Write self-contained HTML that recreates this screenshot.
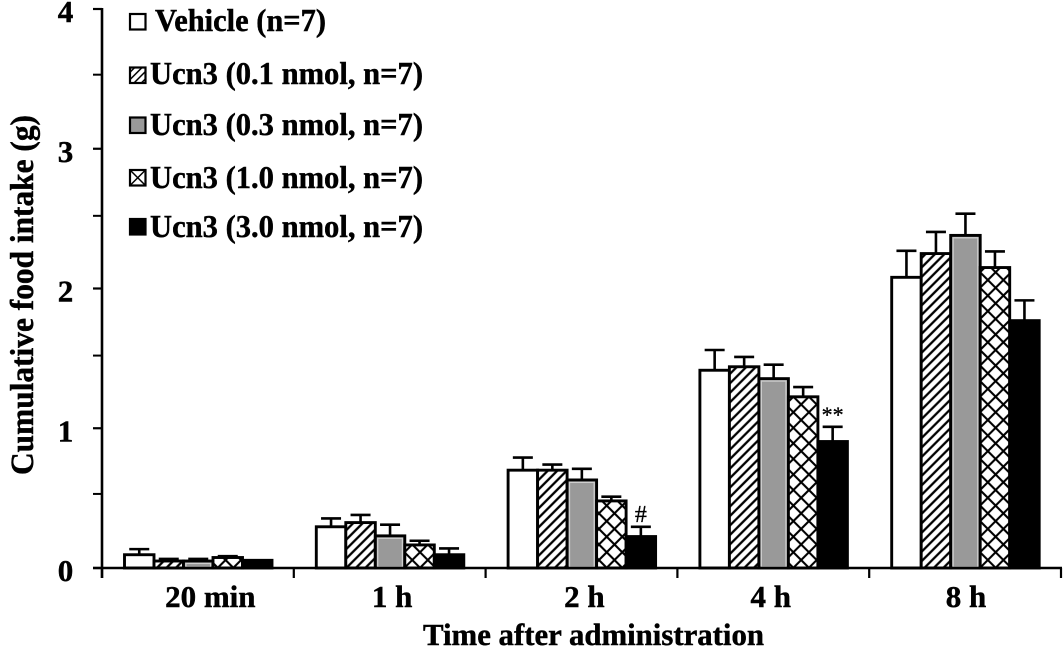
<!DOCTYPE html>
<html lang="en">
<head>
<meta charset="utf-8">
<title>Cumulative food intake chart</title>
<style>
html,body{margin:0;padding:0;background:#fff;width:1063px;height:656px;overflow:hidden}
svg{display:block;filter:blur(.35px)}
text{font-family:"Liberation Serif","Times New Roman",serif;font-weight:bold;fill:#000;stroke:#000;stroke-width:.45px}
</style>
</head>
<body>
<svg id="chart" xmlns="http://www.w3.org/2000/svg" width="1063" height="656" viewBox="0 0 1063 656">
  <defs>
    <pattern id="hatch" patternUnits="userSpaceOnUse" width="6.7" height="6.7" patternTransform="rotate(45)">
      <rect width="6.7" height="6.7" fill="#fff"/>
      <line x1="3.3" y1="0" x2="3.3" y2="6.7" stroke="#000" stroke-width="2.3"/>
    </pattern>
    <pattern id="cross" patternUnits="userSpaceOnUse" width="11" height="11" patternTransform="rotate(45)">
      <rect width="11" height="11" fill="#fff"/>
      <line x1="5.5" y1="0" x2="5.5" y2="11" stroke="#000" stroke-width="2.1"/>
      <line x1="0" y1="5.5" x2="11" y2="5.5" stroke="#000" stroke-width="2.1"/>
    </pattern>
    <pattern id="hatch-small" patternUnits="userSpaceOnUse" width="5.2" height="5.2" patternTransform="rotate(45)">
      <rect width="5.2" height="5.2" fill="#fff"/>
      <line x1="2.6" y1="0" x2="2.6" y2="5.2" stroke="#000" stroke-width="1.5"/>
    </pattern>
  </defs>

  <g id="plot"></g>

  <text font-size="33" transform="translate(33,475) rotate(-90)" textLength="360" lengthAdjust="spacingAndGlyphs">Cumulative food intake (g)</text>
  <text font-size="31" x="423" y="645" textLength="341" lengthAdjust="spacingAndGlyphs">Time after administration</text>

  <g>
    <g>
      <rect x="130" y="14" width="15.5" height="15.5" fill="#fff" stroke="#000" stroke-width="2.2"/>
      <text font-size="32" x="155" y="31" textLength="171" lengthAdjust="spacingAndGlyphs">Vehicle (n=7)</text>
    </g>
    <g>
      <rect x="130" y="67.5" width="15.5" height="15.5" fill="url(#hatch-small)" stroke="#000" stroke-width="2.2"/>
      <text font-size="32" x="150" y="84" textLength="273" lengthAdjust="spacingAndGlyphs">Ucn3 (0.1 nmol, n=7)</text>
    </g>
    <g>
      <rect x="130" y="117.5" width="15.5" height="15.5" fill="#999" stroke="#000" stroke-width="2.2"/>
      <text font-size="32" x="150" y="135" textLength="273" lengthAdjust="spacingAndGlyphs">Ucn3 (0.3 nmol, n=7)</text>
    </g>
    <g>
      <rect x="130" y="170" width="15.5" height="15.5" fill="#fff" stroke="#000" stroke-width="2.2"/>
      <path d="M130 170L145.5 185.500M145.500 170L130 185.500" stroke="#000" stroke-width="1.5"/>
      <text font-size="32" x="150" y="188" textLength="273" lengthAdjust="spacingAndGlyphs">Ucn3 (1.0 nmol, n=7)</text>
    </g>
    <g>
      <rect x="130" y="219" width="15.5" height="15.5" fill="#000" stroke="#000" stroke-width="2.2"/>
      <text font-size="32" x="150" y="237" textLength="273" lengthAdjust="spacingAndGlyphs">Ucn3 (3.0 nmol, n=7)</text>
    </g>
  </g>
</svg>

<script>
const categories = ['20 min', '1 h', '2 h', '4 h', '8 h'];
const vehicleMeans = [0.095, 0.295, 0.70, 1.415, 2.08];
const vehicleErrors = [0.04, 0.06, 0.09, 0.145, 0.19];
const ucn01Means = [0.05, 0.325, 0.70, 1.44, 2.25];
const ucn01Errors = [0.015, 0.055, 0.04, 0.07, 0.155];
const ucn03Means = [0.05, 0.23, 0.63, 1.355, 2.38];
const ucn03Errors = [0.015, 0.08, 0.08, 0.10, 0.155];
const ucn10Means = [0.075, 0.165, 0.48, 1.225, 2.15];
const ucn10Errors = [0.01, 0.03, 0.03, 0.07, 0.115];
const ucn30Means = [0.055, 0.095, 0.225, 0.905, 1.77];
const ucn30Errors = [0, 0.045, 0.07, 0.105, 0.145];
const majorTicks = [0, 1, 2, 3, 4];
const minorTicks = [0.53, 1.52, 2.52, 3.53];
const annotationMarks = [
  { category: '2 h', series: 4, text: '#' },
  { category: '4 h', series: 4, text: '**' }
];

const NS = 'http://www.w3.org/2000/svg';
const plot = document.getElementById('plot');
const axisX0 = 102;
const baselineY = 568;
const unitHeight = 139.75;
const categoryStep = 191.8;
const barStep = 29.5;

function yScale(v) { return baselineY - v * unitHeight; }
function categoryCenter(i) { return axisX0 + categoryStep * (i + 0.5) + 0.4; }
function barLeft(i, j) { return categoryCenter(i) - 73.8 + j * barStep; }

function make(tag, attrs, parent) {
  const el = document.createElementNS(NS, tag);
  for (const k in attrs) el.setAttribute(k, attrs[k]);
  (parent || plot).appendChild(el);
  return el;
}

const seriesMeans = [vehicleMeans, ucn01Means, ucn03Means, ucn10Means, ucn30Means];
const seriesErrors = [vehicleErrors, ucn01Errors, ucn03Errors, ucn10Errors, ucn30Errors];
const seriesKeys = ['vehicle', 'ucn3-0-1', 'ucn3-0-3', 'ucn3-1-0', 'ucn3-3-0'];
const seriesFills = ['#fff', 'url(#hatch)', '#999', 'url(#cross)', '#000'];

categories.forEach(function (cat, i) {
  seriesMeans.forEach(function (means, j) {
    const x = barLeft(i, j);
    const cx = x + barStep / 2;
    const top = yScale(means[i]);
    const errTop = yScale(means[i] + seriesErrors[j][i]);

    const stem = make('line', { x1: cx, x2: cx, y1: top, y2: errTop, stroke: '#000', 'stroke-width': 2.6 });
    
    

    const cap = make('line', { x1: cx - 10, x2: cx + 10, y1: errTop, y2: errTop, stroke: '#000', 'stroke-width': 2.6 });
    
    

    const bar = make('rect', {
      x: x, y: top, width: barStep, height: baselineY - top,
      fill: seriesFills[j], stroke: '#000', 'stroke-width': 2.9
    });
    
    

    if (j === 2 && baselineY - top > 6) {
      const inner = make('rect', {
        x: x + 2.4, y: top + 2.4, width: barStep - 4.8, height: baselineY - top - 3.2,
        fill: '#999', stroke: '#cfcfcf', 'stroke-width': 1.3
      });
      
      
    }
  });
});

annotationMarks.forEach(function (m) {
  const i = categories.indexOf(m.category);
  const cx = barLeft(i, m.series) + barStep / 2;
  const errTop = yScale(seriesMeans[m.series][i] + seriesErrors[m.series][i]);
  const t = make('text', {
    x: cx, y: errTop - 5, 'text-anchor': 'middle', 'font-size': m.text === '#' ? 24 : 22,
    style: 'font-weight:normal;stroke-width:.3px'
  });
  t.textContent = m.text;
  
  
});

const axisY = make('line', { x1: axisX0, x2: axisX0, y1: yScale(4) - 1, y2: baselineY + 10, stroke: '#000', 'stroke-width': 2.6 });



const axisX = make('line', { x1: axisX0 - 9, x2: axisX0 + categoryStep * categories.length + 1, y1: baselineY, y2: baselineY, stroke: '#000', 'stroke-width': 2.6 });



majorTicks.forEach(function (v) {
  const y = yScale(v);
  const tick = make('line', { x1: axisX0 - 9, x2: axisX0, y1: y, y2: y, stroke: '#000', 'stroke-width': 2.2 });
  
  
  const label = make('text', { x: 65.5, y: y + 13, 'text-anchor': 'middle', 'font-size': 31 });
  label.textContent = String(v);
  
  
});

minorTicks.forEach(function (v) {
  const y = yScale(v);
  const tick = make('line', { x1: axisX0 - 9, x2: axisX0, y1: y, y2: y, stroke: '#000', 'stroke-width': 2 });
  
  
});

for (let i = 0; i <= categories.length; i++) {
  const x = axisX0 + categoryStep * i;
  const tick = make('line', { x1: x, x2: x, y1: baselineY, y2: baselineY + 10, stroke: '#000', 'stroke-width': 2.2 });
  
  
}

categories.forEach(function (cat, i) {
  const nudge = [12, 2, 2.5, -3, 0.5][i];
  const label = make('text', {
    x: categoryCenter(i) + nudge, y: 607, 'text-anchor': 'middle', 'font-size': 31
  });
  label.textContent = cat;
  
  
});
</script>
</body>
</html>
